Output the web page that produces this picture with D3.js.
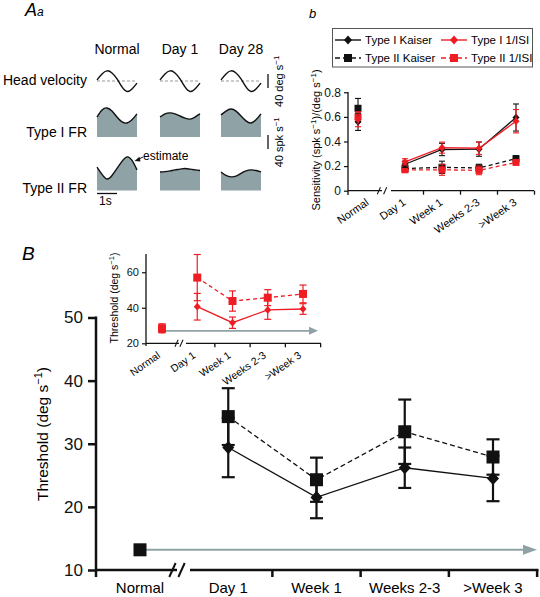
<!DOCTYPE html>
<html><head><meta charset="utf-8">
<script src="https://cdn.jsdelivr.net/npm/d3@7"></script>
<style>body{margin:0;background:#fff}svg{display:block}</style>
</head><body>
<svg id="c" width="540" height="597"></svg>
<script>
// ================= DATA =================
const conditionsA = ["Normal", "Day 1", "Day 28"];
const rowLabelsA = ["Head velocity", "Type I FR", "Type II FR"];
// sampled traces (9 samples over one 1-s cycle)
const headVelocity = [
  [3, 20, 29, 23, 6, -17, -30, -23, -6],
  [3, 20, 29, 23, 6, -17, -30, -23, -6],
  [3, 20, 29, 23, 6, -17, -30, -23, -6]
];
const typeIFR = [
  [57, 77, 83, 74, 57, 43, 40, 49, 66],
  [57, 66, 69, 66, 60, 54, 51, 57, 66],
  [63, 74, 80, 74, 60, 46, 40, 49, 66]
];
const typeIIFR = [
  [67, 46, 33, 43, 63, 83, 96, 86, 59],
  [53, 54, 56, 59, 61, 63, 61, 59, 57],
  [53, 43, 39, 41, 49, 56, 59, 57, 53]
];

const stages = ["Normal", "Day 1", "Week 1", "Weeks 2-3", ">Week 3"];
// Panel b: sensitivity
const sensTypeIKaiser = [0.56, 0.215, 0.335, 0.338, 0.595];
const sensTypeIKaiserErr = [0.07, 0.025, 0.05, 0.058, 0.11];
const sensTypeIISI = [0.58, 0.235, 0.35, 0.345, 0.565];
const sensTypeIISIErr = [0.06, 0.025, 0.045, 0.05, 0.095];
const sensTypeIIKaiser = [0.67, 0.18, 0.19, 0.185, 0.26];
const sensTypeIIKaiserErr = [0.08, 0.02, 0.05, 0.03, 0.025];
const sensTypeIIISI = [0.60, 0.17, 0.17, 0.165, 0.23];
const sensTypeIIISIErr = [0.04, 0.015, 0.045, 0.035, 0.015];
const sensTicks = [0, 0.2, 0.4, 0.6, 0.8];

// Panel B: threshold (main)
const threshTypeI = [null, 29.4, 21.5, 26.2, 24.5];
const threshTypeIErr = [null, 4.7, 3.3, 3.2, 3.6];
const threshTypeII = [13.2, 34.3, 24.3, 31.9, 27.9];
const threshTypeIIErr = [0, 4.5, 3.5, 5.1, 2.8];
const threshTicks = [10, 20, 30, 40, 50];

// Panel B inset (1/ISI)
const insetTypeI = [27.5, 40.6, 31.6, 38.8, 39.3];
const insetTypeIErr = [1.5, 7.5, 3.2, 5.3, 3.0];
const insetTypeII = [28.5, 57.0, 43.8, 45.7, 47.8];
const insetTypeIIErr = [2.5, 13.0, 5.7, 4.5, 5.0];
const insetTicks = [20, 40, 60];

// ================= DRAWING =================
const FONT = "'Liberation Sans', Arial, Helvetica, sans-serif";
const RED = "#ee1d24";
const GREY = "#8fa2a5";
const svg = d3.select("#c").attr("font-family", FONT);

// ---------- Panel Aa ----------
const aText = svg.append("text").attr("x", 25).attr("y", 16).attr("font-style", "italic");
aText.append("tspan").attr("font-size", 18).text("A");
aText.append("tspan").attr("font-size", 12).text("a");

const colX = [97, 160, 221];
const traceW = 40;
conditionsA.forEach((c, i) => {
  svg.append("text").attr("x", colX[i] + traceW / 2).attr("y", 54)
    .attr("text-anchor", "middle").attr("font-size", 14).text(c);
});
const rowY = [85, 137, 193];
rowLabelsA.forEach((r, i) => {
  svg.append("text").attr("x", 87).attr("y", rowY[i])
    .attr("text-anchor", "end").attr("font-size", 14).text(r);
});

const hvCenter = 81, t1Bottom = 137, t2Bottom = 190.5, unitPx = 14;
const yHV = d3.scaleLinear().domain([0, 40]).range([hvCenter, hvCenter - unitPx]);
const yT1 = d3.scaleLinear().domain([0, 40]).range([t1Bottom, t1Bottom - unitPx]);
const yT2 = d3.scaleLinear().domain([0, 40]).range([t2Bottom, t2Bottom - unitPx]);

conditionsA.forEach((c, i) => {
  const xs = d3.scaleLinear().domain([0, 8]).range([colX[i], colX[i] + traceW]);
  svg.append("line").attr("x1", xs(0)).attr("x2", xs(8)).attr("y1", yHV(0)).attr("y2", yHV(0))
    .attr("stroke", "#999").attr("stroke-width", 1).attr("stroke-dasharray", "3,2");
  svg.append("path").datum(headVelocity[i])
    .attr("d", d3.line().x((d, k) => xs(k)).y(d => yHV(d)).curve(d3.curveNatural))
    .attr("fill", "none").attr("stroke", "#111").attr("stroke-width", 1.4);
  [[typeIFR, yT1, t1Bottom], [typeIIFR, yT2, t2Bottom]].forEach(([arr, ys, bot]) => {
    svg.append("path").datum(arr[i])
      .attr("d", d3.area().x((d, k) => xs(k)).y0(bot).y1(d => ys(d)).curve(d3.curveNatural))
      .attr("fill", GREY);
    svg.append("path").datum(arr[i])
      .attr("d", d3.line().x((d, k) => xs(k)).y(d => ys(d)).curve(d3.curveNatural))
      .attr("fill", "none").attr("stroke", "#111").attr("stroke-width", 1.4);
  });
});
// estimate label
svg.append("text").attr("x", 143).attr("y", 160).attr("font-size", 12).text("estimate");
svg.append("line").attr("x1", 143).attr("y1", 157).attr("x2", 138).attr("y2", 159.5)
  .attr("stroke", "#111").attr("stroke-width", 1);
svg.append("path").attr("d", "M134.5,161 L139.5,156.8 L140.5,161.5 Z").attr("fill", "#111");
// time scale bar
svg.append("line").attr("x1", 97).attr("x2", 117).attr("y1", 193.5).attr("y2", 193.5)
  .attr("stroke", "#111").attr("stroke-width", 1.3);
svg.append("text").attr("x", 99).attr("y", 205).attr("font-size", 12).text("1s");
// amplitude scale bars (length = 40 units on the trace scales)
function vScale(yBot, label) {
  const yTop = yBot - unitPx;
  svg.append("line").attr("x1", 268).attr("x2", 268).attr("y1", yTop).attr("y2", yBot)
    .attr("stroke", "#111").attr("stroke-width", 1.3);
  const cy = (yTop + yBot) / 2;
  const t = svg.append("text").attr("font-size", 11).attr("text-anchor", "start");
  t.append("tspan").text(label);
  t.append("tspan").attr("dy", -4).attr("font-size", 8).text("−1");
  const w = t.node().getBBox().width;
  t.attr("transform", `translate(283,${cy + w / 2}) rotate(-90)`);
}
vScale(88, "40 deg s");
vScale(149, "40 spk s");

// ---------- helper for markers ----------
function marker(g, shape, x, y, s, color) {
  if (shape === "square") {
    g.append("rect").attr("x", x - s / 2).attr("y", y - s / 2).attr("width", s).attr("height", s).attr("fill", color);
  } else {
    const w = s * 0.5, h = s * 0.55;
    g.append("path").attr("d", `M${x},${y - h}L${x + w},${y}L${x},${y + h}L${x - w},${y}Z`).attr("fill", color);
  }
}
function drawSeries(g, xf, yScale, vals, errs, o) {
  vals.forEach((v, i) => {
    if (v == null || !errs[i]) return;
    const x = xf(i), y1 = yScale(v - errs[i]), y2 = yScale(v + errs[i]);
    g.append("line").attr("x1", x).attr("x2", x).attr("y1", y1).attr("y2", y2)
      .attr("stroke", o.color).attr("stroke-width", o.ew);
    [y1, y2].forEach(yy => g.append("line").attr("x1", x - o.cap / 2).attr("x2", x + o.cap / 2)
      .attr("y1", yy).attr("y2", yy).attr("stroke", o.color).attr("stroke-width", o.ew));
  });
  const pts = vals.map((v, i) => [i, v]).filter(d => d[0] >= 1 && d[1] != null);
  g.append("path").datum(pts)
    .attr("d", d3.line().x(d => xf(d[0])).y(d => yScale(d[1])))
    .attr("fill", "none").attr("stroke", o.color).attr("stroke-width", o.lw)
    .attr("stroke-dasharray", o.dash || null);
  vals.forEach((v, i) => { if (v != null) marker(g, o.shape, xf(i), yScale(v), o.size, o.color); });
}
function brokenXAxis(g, y, x0, breakA, breakB, x1, tickXs, tickLen, sw, slashH) {
  g.append("line").attr("x1", x0).attr("x2", breakA).attr("y1", y).attr("y2", y).attr("stroke", "#111").attr("stroke-width", sw);
  g.append("line").attr("x1", breakB).attr("x2", x1).attr("y1", y).attr("y2", y).attr("stroke", "#111").attr("stroke-width", sw);
  const gap = (breakB - breakA);
  [breakA - gap * 0.35, breakA + gap * 0.35].forEach(sx => {
    g.append("line").attr("x1", sx - slashH * 0.45).attr("y1", y + slashH).attr("x2", sx + slashH * 0.45).attr("y2", y - slashH)
      .attr("stroke", "#111").attr("stroke-width", sw * 0.8);
  });
  tickXs.forEach(tx => g.append("line").attr("x1", tx).attr("x2", tx).attr("y1", y).attr("y2", y + tickLen)
    .attr("stroke", "#111").attr("stroke-width", sw));
}

// ---------- Panel b ----------
const gb = svg.append("g");
gb.append("text").attr("x", 309).attr("y", 18).attr("font-size", 13).attr("font-style", "italic").text("b");
const yb = d3.scaleLinear().domain([0, 0.8]).range([190.7, 92.3]);
const xbLin = d3.scaleLinear().domain([1, 4]).range([405, 516]);
const stagePosSmall = [-0.27, 1, 2, 3, 4];
const xbPt = i => xbLin(stagePosSmall[i]);
const axB = gb.append("g").attr("transform", "translate(348,0)")
  .call(d3.axisLeft(yb).tickValues(sensTicks).tickSize(4).tickPadding(3).tickFormat(d3.format("~g")));
axB.select(".domain").remove();
axB.selectAll("line").attr("stroke", "#111").attr("stroke-width", 1.2);
axB.selectAll("text").attr("font-size", 12).attr("font-family", FONT).attr("fill", "#111");
gb.append("line").attr("x1", 348).attr("x2", 348).attr("y1", 92).attr("y2", 195).attr("stroke", "#111").attr("stroke-width", 1.3);
brokenXAxis(gb, 190.7, 348, 382, 391, 534, [1.5, 2.5, 3.5, 4.5].map(xbLin), 4, 1.3, 3.5);
stages.forEach((s, i) => {
  gb.append("text").attr("transform", `translate(${xbLin(i) + 1.5},204) rotate(-35)`)
    .attr("text-anchor", "end").attr("font-size", 11).text(s);
});
const ybl = gb.append("text").attr("transform", "translate(320,140) rotate(-90)")
  .attr("text-anchor", "middle").attr("font-size", 11);
ybl.append("tspan").text("Sensitivity (spk s");
ybl.append("tspan").attr("dy", -4).attr("font-size", 8).text("−1");
ybl.append("tspan").attr("dy", 4).text(")/(deg s");
ybl.append("tspan").attr("dy", -4).attr("font-size", 8).text("−1");
ybl.append("tspan").attr("dy", 4).text(")");

const bOpts = [
  [sensTypeIIKaiser, sensTypeIIKaiserErr, {color: "#111", shape: "square", dash: "4,3"}],
  [sensTypeIIISI, sensTypeIIISIErr, {color: RED, shape: "square", dash: "4,3"}],
  [sensTypeIKaiser, sensTypeIKaiserErr, {color: "#111", shape: "diamond"}],
  [sensTypeIISI, sensTypeIISIErr, {color: RED, shape: "diamond"}]
];
bOpts.forEach(([v, e, o]) => drawSeries(gb, xbPt, yb, v, e,
  Object.assign({ew: 1.1, cap: 6, lw: 1.3, size: 7}, o)));

// legend
gb.append("rect").attr("x", 332.5).attr("y", 28.5).attr("width", 200).attr("height", 38.5)
  .attr("fill", "#fff").attr("stroke", "#555").attr("stroke-width", 1);
const legendItems = [
  {label: "Type I Kaiser", color: "#111", shape: "diamond", dash: null, x: 335, y: 40},
  {label: "Type I 1/ISI", color: RED, shape: "diamond", dash: null, x: 441, y: 40},
  {label: "Type II Kaiser", color: "#111", shape: "square", dash: "5,3", x: 335, y: 58},
  {label: "Type II 1/ISI", color: RED, shape: "square", dash: "5,3", x: 441, y: 58}
];
legendItems.forEach(L => {
  gb.append("line").attr("x1", L.x).attr("x2", L.x + 26).attr("y1", L.y).attr("y2", L.y)
    .attr("stroke", L.color).attr("stroke-width", 1.4).attr("stroke-dasharray", L.dash);
  marker(gb, L.shape, L.x + 13, L.y, 8, L.color);
  gb.append("text").attr("x", L.x + 30).attr("y", L.y + 4).attr("font-size", 11.5).text(L.label);
});

// ---------- Panel B main ----------
const gB = svg.append("g");
gB.append("text").attr("x", 22).attr("y", 260).attr("font-size", 19).attr("font-style", "italic").text("B");
const yMain = d3.scaleLinear().domain([10, 50]).range([570, 317.5]);
const xMain = d3.scaleLinear().domain([0, 4]).range([140, 493]);
const axM = gB.append("g").attr("transform", "translate(96,0)")
  .call(d3.axisLeft(yMain).tickValues(threshTicks).tickSize(8).tickPadding(5));
axM.select(".domain").remove();
axM.selectAll("line").attr("stroke", "#111").attr("stroke-width", 2.5);
axM.selectAll("text").attr("font-size", 17).attr("font-family", FONT).attr("fill", "#111");
gB.append("line").attr("x1", 96).attr("x2", 96).attr("y1", 316.5).attr("y2", 577).attr("stroke", "#111").attr("stroke-width", 2.5);
brokenXAxis(gB, 570, 96, 177, 190, 538.5, [1.5, 2.5, 3.5, 4.5].map(xMain), 7, 2.5, 7);
stages.forEach((s, i) => {
  gB.append("text").attr("x", xMain(i)).attr("y", 593).attr("text-anchor", "middle").attr("font-size", 15).text(s);
});
const yml = gB.append("text").attr("transform", "translate(48,434) rotate(-90)")
  .attr("text-anchor", "middle").attr("font-size", 15.5);
yml.append("tspan").text("Threshold (deg s");
yml.append("tspan").attr("dy", -6).attr("font-size", 11).text("−1");
yml.append("tspan").attr("dy", 6).text(")");

function arrow(g, x1, x2, y, sw, head, hw) {
  g.append("line").attr("x1", x1).attr("x2", x2 - head + 1).attr("y1", y).attr("y2", y)
    .attr("stroke", GREY).attr("stroke-width", sw);
  g.append("path").attr("d", `M${x2},${y}L${x2 - head},${y - hw}L${x2 - head},${y + hw}Z`).attr("fill", GREY);
}
arrow(gB, xMain(0), 537, yMain(threshTypeII[0]), 2, 14, 5);
drawSeries(gB, xMain, yMain, threshTypeII, threshTypeIIErr,
  {color: "#111", shape: "square", dash: "5,3", ew: 2.2, cap: 13, lw: 1.3, size: 13});
drawSeries(gB, xMain, yMain, threshTypeI, threshTypeIErr,
  {color: "#111", shape: "diamond", ew: 2.2, cap: 13, lw: 1.3, size: 12});

// ---------- Inset ----------
const gi = svg.append("g");
const yIn = d3.scaleLinear().domain([20, 70]).range([343.3, 254.5]);
const xIn = d3.scaleLinear().domain([0, 4]).range([162, 303]);
const axI = gi.append("g").attr("transform", "translate(146,0)")
  .call(d3.axisLeft(yIn).tickValues(insetTicks).tickSize(4).tickPadding(3));
axI.select(".domain").remove();
axI.selectAll("line").attr("stroke", "#111").attr("stroke-width", 1.2);
axI.selectAll("text").attr("font-size", 11).attr("font-family", FONT).attr("fill", "#111");
gi.append("line").attr("x1", 146).attr("x2", 146).attr("y1", 254).attr("y2", 346).attr("stroke", "#111").attr("stroke-width", 1.3);
brokenXAxis(gi, 343.3, 146, 179, 186, 321, [1.5, 2.5, 3.5, 4.5].map(xIn), 4, 1.3, 3.5);
stages.forEach((s, i) => {
  gi.append("text").attr("transform", `translate(${xIn(i) - 1},357) rotate(-35)`)
    .attr("text-anchor", "end").attr("font-size", 10.5).text(s);
});
const yil = gi.append("text").attr("transform", "translate(118,298) rotate(-90)")
  .attr("text-anchor", "middle").attr("font-size", 10.5);
yil.append("tspan").text("Threshold (deg s");
yil.append("tspan").attr("dy", -4).attr("font-size", 7.5).text("−1");
yil.append("tspan").attr("dy", 4).text(")");
arrow(gi, xIn(0), 318, yIn(27), 1.6, 9, 4);
drawSeries(gi, xIn, yIn, insetTypeII, insetTypeIIErr,
  {color: RED, shape: "square", dash: "4,3", ew: 1.2, cap: 7, lw: 1.3, size: 8});
drawSeries(gi, xIn, yIn, insetTypeI, insetTypeIErr,
  {color: RED, shape: "diamond", ew: 1.2, cap: 7, lw: 1.3, size: 7});
</script>
</body></html>
